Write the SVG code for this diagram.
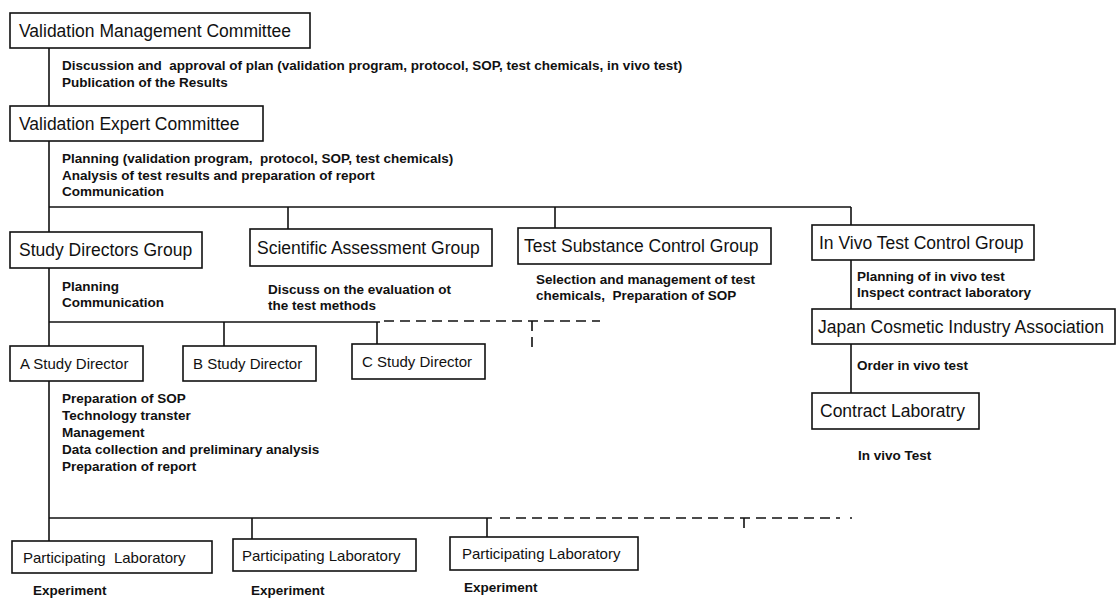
<svg xmlns="http://www.w3.org/2000/svg" width="1117" height="599" viewBox="0 0 1117 599">
<style>
.box{fill:#fff;stroke:#111;stroke-width:1.6}
.t{font-family:"Liberation Sans",Arial,sans-serif;font-size:17.5px;fill:#111}
.ts{font-family:"Liberation Sans",Arial,sans-serif;font-size:15px;fill:#111;white-space:pre}
.b{font-family:"Liberation Sans",Arial,sans-serif;font-size:13.5px;font-weight:bold;fill:#111;white-space:pre}
.ln{stroke:#111;stroke-width:1.6;fill:none}
.dash{stroke:#111;stroke-width:1.6;fill:none;stroke-dasharray:10 6}
</style>
<rect width="1117" height="599" fill="#fff"/>
<g id="connectors">
<line class="ln" x1="49" y1="48" x2="49" y2="106"/>
<line class="ln" x1="49" y1="141" x2="49" y2="232"/>
<line class="ln" x1="49" y1="207" x2="851" y2="207"/>
<line class="ln" x1="288" y1="207" x2="288" y2="229"/>
<line class="ln" x1="555" y1="207" x2="555" y2="228"/>
<line class="ln" x1="851" y1="207" x2="851" y2="225"/>
<line class="ln" x1="49" y1="268" x2="49" y2="346"/>
<line class="ln" x1="49" y1="322" x2="380" y2="322"/>
<line class="ln" x1="224" y1="322" x2="224" y2="346"/>
<line class="ln" x1="377" y1="322" x2="377" y2="344"/>
<line class="dash" x1="384" y1="321" x2="600" y2="321"/>
<line class="dash" x1="532" y1="321" x2="532" y2="349"/>
<line class="ln" x1="49" y1="381" x2="49" y2="541"/>
<line class="ln" x1="49" y1="518" x2="492" y2="518"/>
<line class="dash" x1="500" y1="518" x2="840" y2="518"/>
<line class="ln" x1="850" y1="518" x2="852" y2="518"/>
<line class="ln" x1="252" y1="518" x2="252" y2="539"/>
<line class="ln" x1="487" y1="518" x2="487" y2="537"/>
<line class="ln" x1="744" y1="518" x2="744" y2="528"/>
<line class="ln" x1="851" y1="260" x2="851" y2="309"/>
<line class="ln" x1="851" y1="344" x2="851" y2="393"/>
</g>
<g id="vmc">
<rect class="box" x="10" y="13" width="300" height="35"/>
<text class="t" x="19" y="37">Validation Management Committee</text>
<text class="b" x="62" y="70" xml:space="preserve">Discussion and  approval of plan (validation program, protocol, SOP, test chemicals, in vivo test)</text>
<text class="b" x="62" y="87">Publication of the Results</text>
</g>
<g id="vec">
<rect class="box" x="10" y="106" width="253" height="35"/>
<text class="t" x="19" y="130">Validation Expert Committee</text>
<text class="b" x="62" y="163" xml:space="preserve">Planning (validation program,  protocol, SOP, test chemicals)</text>
<text class="b" x="62" y="180">Analysis of test results and preparation of report</text>
<text class="b" x="62" y="196">Communication</text>
</g>
<g id="sdg">
<rect class="box" x="10" y="232" width="192" height="36"/>
<text class="t" x="19" y="256">Study Directors Group</text>
<text class="b" x="62" y="291">Planning</text>
<text class="b" x="62" y="307">Communication</text>
</g>
<g id="sag">
<rect class="box" x="250" y="229" width="242" height="37"/>
<text class="t" x="257" y="254">Scientific Assessment Group</text>
<text class="b" x="268" y="294">Discuss on the evaluation ot</text>
<text class="b" x="268" y="310">the test methods</text>
</g>
<g id="tscg">
<rect class="box" x="518" y="228" width="253" height="36"/>
<text class="t" x="524" y="252">Test Substance Control Group</text>
<text class="b" x="536" y="284">Selection and management of test</text>
<text class="b" x="536" y="300" xml:space="preserve">chemicals,  Preparation of SOP</text>
</g>
<g id="ivtcg">
<rect class="box" x="812" y="225" width="222" height="35"/>
<text class="t" x="819" y="249">In Vivo Test Control Group</text>
<text class="b" x="857" y="281">Planning of in vivo test</text>
<text class="b" x="857" y="297">Inspect contract laboratory</text>
</g>
<g id="jcia">
<rect class="box" x="812" y="309" width="303" height="35"/>
<text class="t" x="818" y="333">Japan Cosmetic Industry Association</text>
<text class="b" x="857" y="370">Order in vivo test</text>
</g>
<g id="cl">
<rect class="box" x="812" y="393" width="167" height="36"/>
<text class="t" x="820" y="417">Contract Laboratry</text>
<text class="b" x="858" y="460">In vivo Test</text>
</g>
<g id="asd">
<rect class="box" x="10" y="346" width="133" height="35"/>
<text class="ts" x="20" y="369">A Study Director</text>
<text class="b" x="62" y="403">Preparation of SOP</text>
<text class="b" x="62" y="420">Technology transter</text>
<text class="b" x="62" y="437">Management</text>
<text class="b" x="62" y="454">Data collection and preliminary analysis</text>
<text class="b" x="62" y="471">Preparation of report</text>
</g>
<g id="bsd">
<rect class="box" x="183" y="346" width="133" height="35"/>
<text class="ts" x="193" y="369">B Study Director</text>
</g>
<g id="csd">
<rect class="box" x="352" y="344" width="133" height="35"/>
<text class="ts" x="362" y="367">C Study Director</text>
</g>
<g id="pl1">
<rect class="box" x="12" y="541" width="200" height="32"/>
<text class="ts" x="23" y="563" xml:space="preserve">Participating  Laboratory</text>
<text class="b" x="33" y="595">Experiment</text>
</g>
<g id="pl2">
<rect class="box" x="233" y="539" width="183" height="32"/>
<text class="ts" x="242" y="561">Participating Laboratory</text>
<text class="b" x="251" y="595">Experiment</text>
</g>
<g id="pl3">
<rect class="box" x="450" y="537" width="188" height="33"/>
<text class="ts" x="462" y="559">Participating Laboratory</text>
<text class="b" x="464" y="592">Experiment</text>
</g>
</svg>
